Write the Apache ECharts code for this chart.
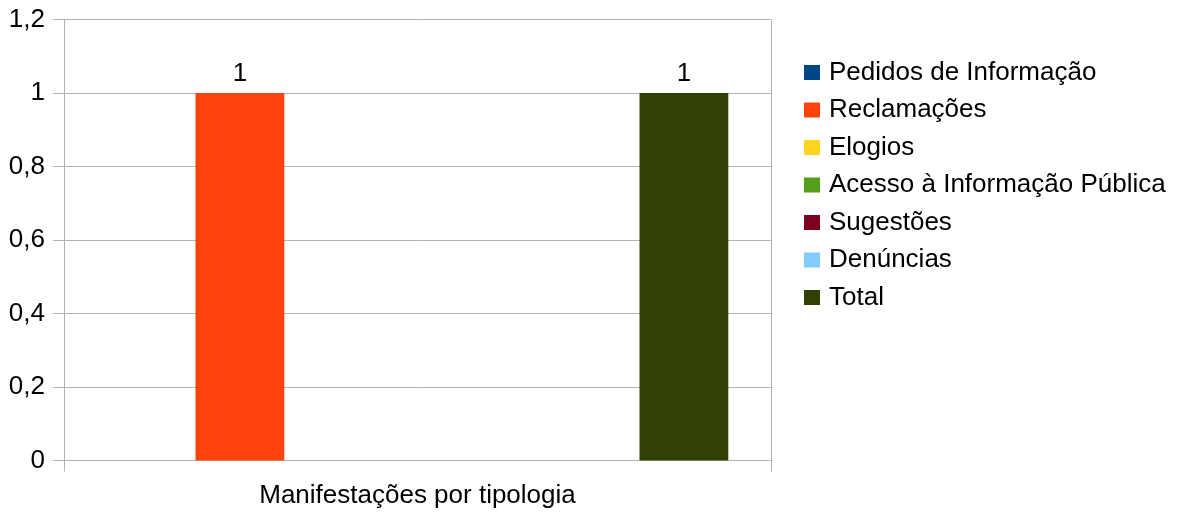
<!DOCTYPE html>
<html>
<head>
<meta charset="utf-8">
<script src="https://cdn.jsdelivr.net/npm/echarts@6/dist/echarts.min.js"></script>
<style>
  html, body { margin: 0; padding: 0; background: #ffffff; }
  #chart { width: 1182px; height: 513px; }
</style>
</head>
<body>
<div id="chart"></div>
<script>
// Single category, one bar per type of manifestation
const categories = ['Manifestações por tipologia'];

const seriesNames = [
  'Pedidos de Informação',
  'Reclamações',
  'Elogios',
  'Acesso à Informação Pública',
  'Sugestões',
  'Denúncias',
  'Total'
];

// Values per series (null = no value recorded)
const pedidosInformacao = [null];
const reclamacoes = [1];
const elogios = [null];
const acessoInformacao = [null];
const sugestoes = [null];
const denuncias = [null];
const total = [1];

const seriesValues = [pedidosInformacao, reclamacoes, elogios, acessoInformacao, sugestoes, denuncias, total];

const colors = ['#004586', '#ff420e', '#ffd320', '#579d1c', '#7e0021', '#83caff', '#314004'];

const yTicks = { min: 0, max: 1.2, interval: 0.2 };

const FONT = '"Liberation Sans", Arial, sans-serif';
const FONT_SIZE = 26;
const GRID_COLOR = '#b3b3b3';

const chart = echarts.init(document.getElementById('chart'), null, { renderer: 'canvas' });

const series = seriesNames.map((name, i) => ({
  name: name,
  type: 'bar',
  data: seriesValues[i],
  barWidth: 88.8,
  barGap: '0%',
  itemStyle: { color: colors[i] },
  label: {
    show: true,
    position: 'top',
    distance: 6,
    color: '#000000',
    fontFamily: FONT,
    fontSize: FONT_SIZE,
    formatter: p => String(p.value).replace('.', ',')
  }
}));

chart.setOption({
  animation: false,
  textStyle: { fontFamily: FONT },
  grid: { left: 64, right: 411, top: 19.5, bottom: 52.5, containLabel: false },
  legend: {
    orient: 'vertical',
    left: 799,
    top: 54.5,
    itemWidth: 16,
    itemHeight: 15,
    itemGap: 11.5,
    icon: 'rect',
    data: seriesNames,
    textStyle: {
      fontFamily: FONT,
      fontSize: FONT_SIZE,
      color: '#000000',
      padding: [0, 0, 0, 4]
    }
  },
  xAxis: {
    type: 'category',
    data: categories,
    axisLine: { show: true, lineStyle: { color: GRID_COLOR, width: 1 } },
    axisTick: { show: true, length: 11, lineStyle: { color: GRID_COLOR } },
    splitLine: { show: true, lineStyle: { color: GRID_COLOR } },
    axisLabel: {
      margin: 22,
      color: '#000000',
      fontFamily: FONT,
      fontSize: FONT_SIZE
    }
  },
  yAxis: {
    type: 'value',
    min: yTicks.min,
    max: yTicks.max,
    interval: yTicks.interval,
    axisLine: { show: true, lineStyle: { color: GRID_COLOR, width: 1 } },
    axisTick: { show: true, length: 11, lineStyle: { color: GRID_COLOR } },
    splitLine: { show: true, lineStyle: { color: GRID_COLOR, width: 1 } },
    axisLabel: {
      margin: 19,
      color: '#000000',
      fontFamily: FONT,
      fontSize: FONT_SIZE,
      formatter: v => String(+v.toFixed(1)).replace('.', ',')
    }
  },
  series: series
});
</script>
</body>
</html>
